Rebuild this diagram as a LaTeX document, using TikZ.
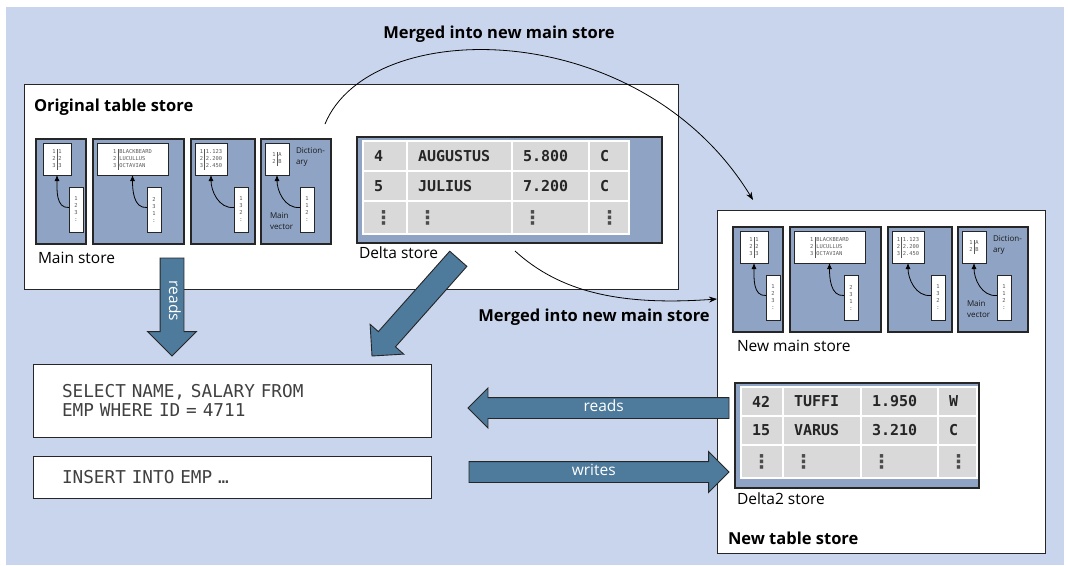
\documentclass[tikz,border=0pt]{standalone}
\usepackage{fontspec}
\setmainfont{Open Sans}
\setsansfont{Open Sans}
\setmonofont{DejaVu Sans Mono}
\newfontfamily\symfont{DejaVu Sans}
\usepackage{tikz}
\usetikzlibrary{arrows.meta,positioning,shapes.arrows,matrix}

\definecolor{bgblue}{HTML}{C9D5EC}
\definecolor{slate}{HTML}{8FA4C4}
\definecolor{steel}{HTML}{4E7A9C}
\definecolor{cellgrey}{HTML}{D9D9D9}
\definecolor{edge}{HTML}{262626}
\definecolor{codegrey}{HTML}{404040}

\newcommand{\vdotcell}{{\symfont\fontsize{19}{19}\selectfont\color{black!70}⋮}}

\begin{document}
\begin{tikzpicture}[x=1pt, y=-1pt, every node/.style={outer sep=0pt},
    store/.style={draw=edge, line width=1pt, fill=white, anchor=north west, inner sep=0pt},
    column/.style={draw=edge, line width=1.1pt, fill=slate, anchor=north west, inner sep=0pt},
    dictbox/.style={draw=edge, line width=0.8pt, fill=white, anchor=north west, inner sep=0pt,
      minimum height=32pt, text=black!65, font=\ttfamily\fontsize{5.4}{7}\selectfont},
    vecbox/.style={dictbox, minimum width=14pt, minimum height=45pt, align=center},
    minor/.style={-{Latex[length=6pt,width=5pt]}, line width=0.8pt, black},
    merge/.style={-{Stealth[length=8pt,width=6pt]}, line width=0.8pt, black},
    title/.style={font=\bfseries\fontsize{16.5}{19}\selectfont, inner sep=0pt},
    caption/.style={font=\fontsize{15.5}{18}\selectfont, inner sep=0pt},
    small/.style={font=\fontsize{8}{10.5}\selectfont, text=black!90, anchor=north west,
      inner sep=0pt, align=left},
    cell/.style={draw=white, line width=1.2pt, fill=cellgrey, inner xsep=11pt, inner ysep=0pt,
      minimum height=30pt, align=left, anchor=center, text=black!85,
      font=\ttfamily\bfseries\fontsize{15}{15}\selectfont},
    query/.style={draw=edge, line width=1pt, fill=white, anchor=north west, inner xsep=29pt,
      minimum width=398pt, text width=340pt, align=left, text=codegrey,
      font=\ttfamily\fontsize{17.7}{19}\selectfont},
    blockarrow/.style={single arrow, draw=edge, line width=0.9pt, fill=steel, text=white,
      inner xsep=0pt, inner ysep=4pt, text height=9pt, text depth=3pt,
      single arrow head extend=10pt, anchor=tip, font=\fontsize{15.5}{15.5}\selectfont}
  ]
  \useasboundingbox (0,0) rectangle (1068,565);
  \fill[bgblue] (6,7) rectangle (1064,565);

  % the two table stores
  \node[store, minimum width=654pt, minimum height=205pt] (otable) at (24,84) {};
  \node[store, minimum width=328pt, minimum height=343pt] (ntable) at (717,210) {};
  \node[title, below right=15pt and 10pt of otable.north west] {Original table store};
  \node[title, above right=8pt and 11pt of ntable.south west] {New table store};

  % main stores: dictionary + main vector per column
  \foreach \s/\ox/\oy in {o/36/139, n/733/227} {
    \begin{scope}[shift={(\ox,\oy)}]
      \foreach \col/\cx/\cw/\dx/\dw/\vx/\dict/\vc in {
          1/0/50/7/28/33/{1&1\\2&2\\3&3}/{1\\2\\3\\:},
          2/57/91/61/71/111/{1&BLACKBEARD\\2&LUCULLUS\\3&OCTAVIAN}/{2\\3\\1\\:},
          3/155/64/159/32/198/{1&1.123\\2&2.200\\3&2.450}/{1\\3\\2\\:},
          4/225/70/229/24/264/{1&A\\2&B}/{1\\1\\2\\:}} {
        \node[column, minimum width=\cw pt, minimum height=105pt] (\s\col) at (\cx,0) {};
        \node[dictbox, minimum width=\dw pt] (\s\col d) at (\dx,4)
          {\begin{tabular}{@{}r@{\hspace{1.3pt}}|@{\hspace{1.3pt}}l@{}}\dict\end{tabular}};
        \node[vecbox] (\s\col v) at (\vx,48) {\vc};
        \draw[minor] ([yshift=2pt]\s\col v.west) to[out=185, in=270] (\s\col d.south);
      }
      \node[small] at (260,9) {Diction-\\ary};
      \node[small] at (234,74) {Main\\vector};
    \end{scope}
  }
  \node[caption, below right=8pt and 2pt of o1.south west] {Main store};
  \node[caption, below right=8pt and 4pt of n1.south west] {New main store};

  % delta stores
  \node[column, minimum width=305pt, minimum height=106pt] (dstore) at (357,137) {};
  \matrix (dtab) [matrix of nodes, anchor=north west, inner sep=0pt,
      column sep=-1.2pt, row sep=-1.2pt, nodes={cell},
      column 1/.style={nodes={text width=22pt}}, column 2/.style={nodes={text width=83pt}},
      column 3/.style={nodes={text width=55pt}}, column 4/.style={nodes={text width=18pt}},
      row 3/.style={nodes={minimum height=33pt}}] at (362.4,140.4) {
    4 & AUGUSTUS & 5.800 & C \\
    5 & JULIUS & 7.200 & C \\
    \vdotcell & \vdotcell & \vdotcell & \vdotcell \\
  };
  \node[caption, below right=4pt and 2pt of dstore.south west] {Delta store};

  \node[column, minimum width=244pt, minimum height=105pt] (d2store) at (735,383) {};
  \matrix (d2tab) [matrix of nodes, anchor=north west, inner sep=0pt,
      column sep=-1.2pt, row sep=-1.2pt, nodes={cell, minimum height=29pt},
      column 1/.style={nodes={text width=20pt}}, column 2/.style={nodes={text width=56pt}},
      column 3/.style={nodes={text width=55pt}}, column 4/.style={nodes={text width=17pt}},
      row 3/.style={nodes={minimum height=33pt}}] at (740.4,386.4) {
    42 & TUFFI & 1.950 & W \\
    15 & VARUS & 3.210 & C \\
    \vdotcell & \vdotcell & \vdotcell & \vdotcell \\
  };
  \node[caption, below right=5pt and 2pt of d2store.south west] {Delta2 store};

  % queries
  \node[query, minimum height=73pt] (q1) at (33,364) {SELECT NAME, SALARY FROM\\EMP WHERE ID = 4711};
  \node[query, minimum height=42pt] (q2) at (33,456) {INSERT INTO EMP …};

  % merge curves
  \coordinate (arcA) at (325,124);
  \coordinate (arcB) at (753,200);
  \coordinate (arcC) at (515,251);
  \draw[merge] (arcA) .. controls (370,15) and (640,15) .. (arcB);
  \draw[merge] (arcC) .. controls (560,292) and (620,306) .. (ntable.west |- 0,299);
  \node[title, anchor=base] at (499,38) {Merged into new main store};
  \node[title, anchor=base] at (594,321) {Merged into new main store};

  % reads / writes
  \node[blockarrow, rotate=-90, minimum height=98pt, inner ysep=5.5pt,
    single arrow head extend=12.5pt] (rdown) at (172,356) {reads};
  \node[blockarrow, rotate=228.4, minimum height=130pt, inner ysep=5pt,
    single arrow head extend=11pt] (rdiag) at (372,356) {};
  \node[blockarrow, shape border rotate=180, minimum height=261pt,
    single arrow head extend=9.5pt] (rleft) at (468,408) {reads};
  \node[blockarrow, minimum height=260pt] (wright) at (729,472) {writes};
\end{tikzpicture}
\end{document}
